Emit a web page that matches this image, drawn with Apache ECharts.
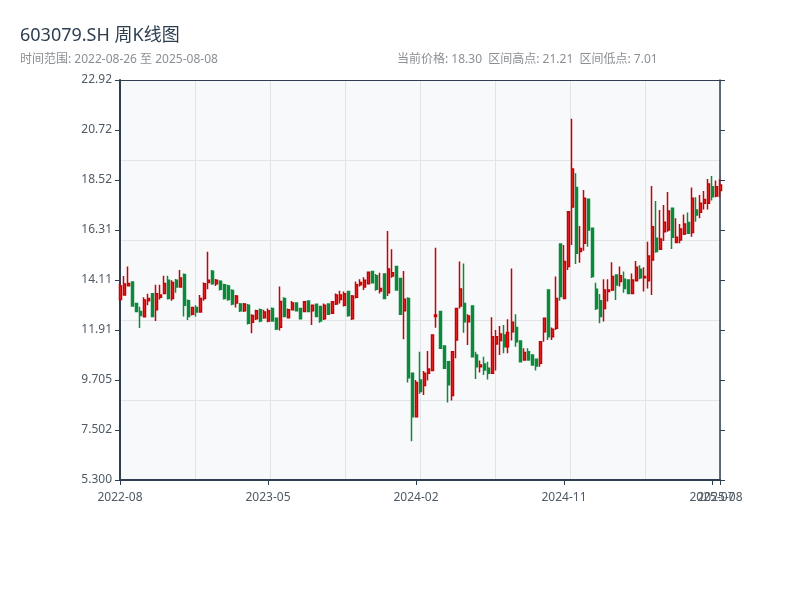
<!DOCTYPE html>
<html>
<head>
<meta charset="utf-8">
<script src="https://cdn.jsdelivr.net/npm/echarts@6/dist/echarts.min.js"></script>
<style>html,body{margin:0;padding:0;background:#fff}#c{width:800px;height:600px}</style>
</head>
<body>
<div id="c"></div>
<script>
const dates = [
'2022-08-26','2022-09-02','2022-09-09','2022-09-16','2022-09-23','2022-09-30','2022-10-14','2022-10-21','2022-10-28','2022-11-04','2022-11-11','2022-11-18','2022-11-25','2022-12-02','2022-12-09','2022-12-16','2022-12-23','2022-12-30',
'2023-01-06','2023-01-13','2023-01-20','2023-02-03','2023-02-10','2023-02-17','2023-02-24','2023-03-03','2023-03-10','2023-03-17','2023-03-24','2023-03-31','2023-04-07','2023-04-14','2023-04-21','2023-04-28','2023-05-05','2023-05-12','2023-05-19','2023-05-26','2023-06-02','2023-06-09','2023-06-16','2023-06-23','2023-06-30','2023-07-07','2023-07-14','2023-07-21','2023-07-28','2023-08-04','2023-08-11','2023-08-18','2023-08-25','2023-09-01','2023-09-08','2023-09-15','2023-09-22','2023-09-29','2023-10-13','2023-10-20','2023-10-27','2023-11-03','2023-11-10','2023-11-17','2023-11-24','2023-12-01','2023-12-08','2023-12-15','2023-12-22','2023-12-29',
'2024-01-05','2024-01-12','2024-01-19','2024-01-26','2024-02-02','2024-02-09','2024-02-23','2024-03-01','2024-03-08','2024-03-15','2024-03-22','2024-03-29','2024-04-05','2024-04-12','2024-04-19','2024-04-26','2024-05-03','2024-05-10','2024-05-17','2024-05-24','2024-05-31','2024-06-07','2024-06-14','2024-06-21','2024-06-28','2024-07-05','2024-07-12','2024-07-19','2024-07-26','2024-08-02','2024-08-09','2024-08-16','2024-08-23','2024-08-30','2024-09-06','2024-09-13','2024-09-20','2024-09-27','2024-10-04','2024-10-11','2024-10-18','2024-10-25','2024-11-01','2024-11-08','2024-11-15','2024-11-22','2024-11-29','2024-12-06','2024-12-13','2024-12-20','2024-12-27',
'2025-01-03','2025-01-10','2025-01-17','2025-01-24','2025-01-31','2025-02-07','2025-02-14','2025-02-21','2025-02-28','2025-03-07','2025-03-14','2025-03-21','2025-03-28','2025-04-04','2025-04-11','2025-04-18','2025-04-25','2025-05-02','2025-05-09','2025-05-16','2025-05-23','2025-05-30','2025-06-06','2025-06-13','2025-06-20','2025-06-27','2025-07-04','2025-07-11','2025-07-18','2025-07-25','2025-08-01','2025-08-08'
];
const openP = [
13.25,13.45,13.86,14.02,13.08,12.72,12.49,13.20,13.50,12.80,13.35,13.52,14.10,13.30,14.10,13.80,14.35,13.20,12.60,12.90,
12.70,13.30,14.00,14.50,13.95,14.05,13.90,13.85,13.65,13.10,13.05,12.75,13.00,12.25,12.40,12.80,12.45,12.30,12.86,12.42,
12.03,13.30,12.45,12.80,13.10,12.85,12.72,13.19,12.75,13.04,12.94,12.40,13.05,12.65,13.05,13.25,13.00,13.60,12.40,13.35,
13.90,13.80,13.95,14.48,14.30,13.62,14.37,13.55,14.29,14.70,14.18,12.76,13.30,10.00,8.09,9.70,9.46,10.00,10.12,12.50,
12.72,11.20,10.51,9.02,11.47,12.97,13.08,12.27,12.97,10.81,10.29,10.41,10.22,10.00,11.29,11.44,11.69,11.17,11.83,12.02,
11.42,10.59,10.95,10.81,10.62,10.44,11.83,13.67,11.61,11.98,15.70,13.30,14.70,17.33,18.19,15.36,15.73,17.67,16.39,13.70,
13.20,12.86,13.60,13.67,14.33,14.04,14.14,14.11,13.52,14.08,14.58,14.21,14.08,14.99,15.95,15.46,16.24,16.31,17.27,15.76,
15.87,16.14,16.64,16.20,17.19,17.09,17.49,17.49,18.22,17.81,18.05
];
const closeP = [
13.85,13.93,13.96,12.97,12.72,12.55,13.23,13.30,12.50,13.50,13.45,13.96,13.30,14.00,13.80,14.20,13.00,12.50,12.90,12.70,
13.30,13.95,14.10,13.95,14.10,13.70,13.30,13.25,13.05,13.40,12.75,13.05,12.20,12.55,12.75,12.30,12.70,12.75,12.30,11.95,
13.16,12.50,12.80,13.10,12.75,12.40,13.15,12.72,13.00,12.50,12.30,13.00,12.60,13.15,13.45,13.45,13.50,12.55,13.40,13.90,
14.00,14.10,14.45,13.99,13.70,13.74,13.30,14.60,14.43,13.67,12.60,13.26,9.80,8.09,9.60,9.20,10.00,10.19,11.69,12.57,
11.10,10.22,9.50,10.95,12.86,13.71,12.27,12.52,10.73,10.29,10.37,10.15,10.00,11.61,11.61,11.73,11.17,11.80,12.25,11.39,
10.51,10.92,10.59,10.37,10.32,11.39,12.42,11.61,11.94,13.30,13.38,14.92,17.12,19.00,15.29,15.50,17.71,16.31,14.26,12.86,
12.50,13.67,13.67,14.26,13.89,14.30,13.74,13.52,14.11,14.67,14.21,14.26,15.17,16.46,15.36,15.92,16.65,17.15,15.99,15.99,
16.36,16.58,16.17,17.71,16.97,17.49,17.66,18.34,17.78,18.22,18.30
];
const lowP = [
13.20,13.45,13.82,12.94,12.70,12.00,12.49,13.00,12.50,12.30,13.25,13.50,13.25,13.20,13.55,13.80,12.50,12.35,12.55,12.50,
12.70,13.20,13.70,13.90,13.85,13.65,13.25,13.20,13.00,12.90,12.70,12.70,12.15,11.76,12.35,12.25,12.40,12.25,12.27,11.91,
11.88,12.49,12.42,12.79,12.72,12.38,12.70,12.70,12.13,12.49,12.23,12.35,12.57,12.61,13.01,13.08,12.94,12.49,12.35,13.30,
13.82,13.67,13.92,13.96,13.64,13.52,13.30,13.41,14.21,13.67,12.57,11.50,9.60,7.01,8.09,9.10,9.04,9.68,10.12,12.01,
11.10,10.22,8.71,8.80,10.66,12.86,11.79,11.25,10.73,9.75,10.03,9.93,9.73,10.00,10.12,10.81,10.88,10.88,11.44,11.17,
10.51,10.59,10.56,10.37,10.12,10.29,11.39,11.47,11.47,11.91,13.20,13.30,14.55,15.65,14.81,14.87,15.40,15.58,14.20,12.79,
12.20,12.28,13.16,13.63,13.23,13.82,13.55,13.52,13.52,14.04,14.14,13.60,13.74,13.45,15.31,15.43,15.83,16.24,15.48,15.73,
15.73,16.09,16.14,16.02,16.68,16.83,17.22,17.22,17.61,17.75,17.75
];
const highP = [
13.95,14.29,14.70,14.05,13.10,12.93,13.35,13.50,13.50,13.90,13.90,14.30,14.30,14.10,14.15,14.55,14.40,13.25,12.90,13.00,
13.45,14.00,15.35,14.55,14.15,14.10,13.95,13.90,13.70,13.45,13.10,13.10,13.05,12.60,12.80,12.85,12.80,12.85,12.90,12.45,
13.82,13.35,12.86,13.19,13.11,12.86,13.16,13.20,13.01,13.05,12.95,13.08,13.06,13.19,13.52,13.64,13.60,13.60,13.45,14.04,
14.14,14.23,14.45,14.51,14.37,14.43,14.40,16.27,15.46,14.70,14.20,14.51,13.35,10.00,9.70,10.95,10.10,10.98,11.69,15.53,
12.72,11.20,10.51,10.95,12.89,14.92,14.84,12.60,12.97,10.95,10.56,10.73,10.51,12.47,11.91,12.08,12.13,12.38,14.62,12.60,
11.42,11.10,11.10,10.81,10.62,11.42,12.45,13.67,12.02,14.26,15.70,15.65,17.15,21.21,18.81,16.49,18.07,17.67,16.42,13.99,
13.49,14.14,14.14,14.89,14.33,14.70,14.48,14.11,14.40,14.95,14.76,14.67,15.80,18.25,17.59,17.19,17.41,17.99,17.27,16.83,
16.58,17.00,17.08,18.19,17.75,17.85,18.03,18.56,18.69,18.49,18.55
];
const yTickLabels = ['5.300','7.502','9.705','11.91','14.11','16.31','18.52','20.72','22.92'];
const titleText = '603079.SH 周K线图';
const subLeft = '时间范围: 2022-08-26 至 2025-08-08';
const subRight = '当前价格: 18.30  区间高点: 21.21  区间低点: 7.01';

const FONT = '"Noto Sans", "Noto Sans CJK SC", sans-serif';
const AX = '#2c3e50';
const LBL = '#4f5a64';
const candleData = dates.map((d, i) => [openP[i], closeP[i], lowP[i], highP[i]]);
const lastIdx = dates.length - 1;
const tickInt = (idx) => idx % 37 === 0 || idx === lastIdx;
const mainLabelInt = (idx) => idx % 37 === 0;
const lastLabelInt = (idx) => idx === lastIdx;

const chart = echarts.init(document.getElementById('c'), null, {renderer: 'canvas'});
chart.setOption({
  animation: false,
  backgroundColor: '#ffffff',
  textStyle: {fontFamily: FONT},
  graphic: [
    {type: 'text', left: 20, top: 27, style: {text: titleText, fontSize: 18, fill: '#2c3e50', fontFamily: FONT}},
    {type: 'text', left: 20, top: 54, style: {text: subLeft, fontSize: 12, fill: '#8a8f94', fontFamily: FONT}},
    {type: 'text', left: 397, top: 54, style: {text: subRight, fontSize: 12, fill: '#8a8f94', fontFamily: FONT}}
  ],
  grid: {left: 120, right: 80, top: 80, bottom: 120, show: true, backgroundColor: '#f7f9fb', borderWidth: 0},
  xAxis: [
    {
      type: 'category', data: dates, boundaryGap: false, position: 'bottom',
      axisLine: {show: true, onZero: false, lineStyle: {color: AX, width: 2}},
      axisTick: {show: true, interval: tickInt, length: 5, lineStyle: {color: AX, width: 1}},
      axisLabel: {interval: mainLabelInt, hideOverlap: false, formatter: v => v.slice(0, 7), color: LBL, fontSize: 12, margin: 9, padding: [3, 0, 0, 0], fontFamily: FONT},
      splitLine: {show: false}
    },
    {
      type: 'value', position: 'top', min: 0, max: 8, interval: 1,
      axisLine: {show: true, onZero: false, lineStyle: {color: AX, width: 1}},
      axisTick: {show: false}, axisLabel: {show: false},
      splitLine: {show: true, lineStyle: {color: '#e1e4e8', width: 1}}
    },
    {
      type: 'category', data: dates, boundaryGap: false, position: 'bottom',
      axisLine: {show: false}, axisTick: {show: false}, splitLine: {show: false},
      axisLabel: {interval: lastLabelInt, hideOverlap: false, formatter: v => v.slice(0, 7), color: LBL, fontSize: 12, margin: 9, padding: [3, 0, 0, 0], fontFamily: FONT}
    }
  ],
  yAxis: [
    {type: 'value', min: 5.3, max: 22.92, show: false, splitLine: {show: false}},
    {
      type: 'value', position: 'left', min: 0, max: 8, interval: 1,
      axisLine: {show: true, onZero: false, lineStyle: {color: AX, width: 2}},
      axisTick: {show: true, length: 5, lineStyle: {color: AX, width: 1}},
      axisLabel: {color: LBL, fontSize: 12, margin: 8, padding: [5, 0, 0, 0], fontFamily: FONT,
        formatter: v => yTickLabels[Math.round(v)]},
      splitLine: {show: false}
    },
    {
      type: 'value', position: 'right', min: 0, max: 8, interval: 1,
      axisLine: {show: true, onZero: false, lineStyle: {color: AX, width: 1.5}},
      axisTick: {show: true, length: 5, lineStyle: {color: AX, width: 1}},
      axisLabel: {show: false}, splitLine: {show: false}
    },
    {
      type: 'value', position: 'left', min: 0, max: 5, interval: 1,
      axisLine: {show: false}, axisTick: {show: false}, axisLabel: {show: false},
      splitLine: {show: true, lineStyle: {color: '#e1e4e8', width: 1}}
    }
  ],
  series: [{
    type: 'candlestick', xAxisIndex: 0, yAxisIndex: 0,
    data: candleData, barWidth: 2.5,
    itemStyle: {color: '#ec3a3a', color0: '#0a8a3a', borderColor: '#cc0000', borderColor0: '#0a8a3a', borderWidth: 1.5}
  }]
});
</script>
</body>
</html>
